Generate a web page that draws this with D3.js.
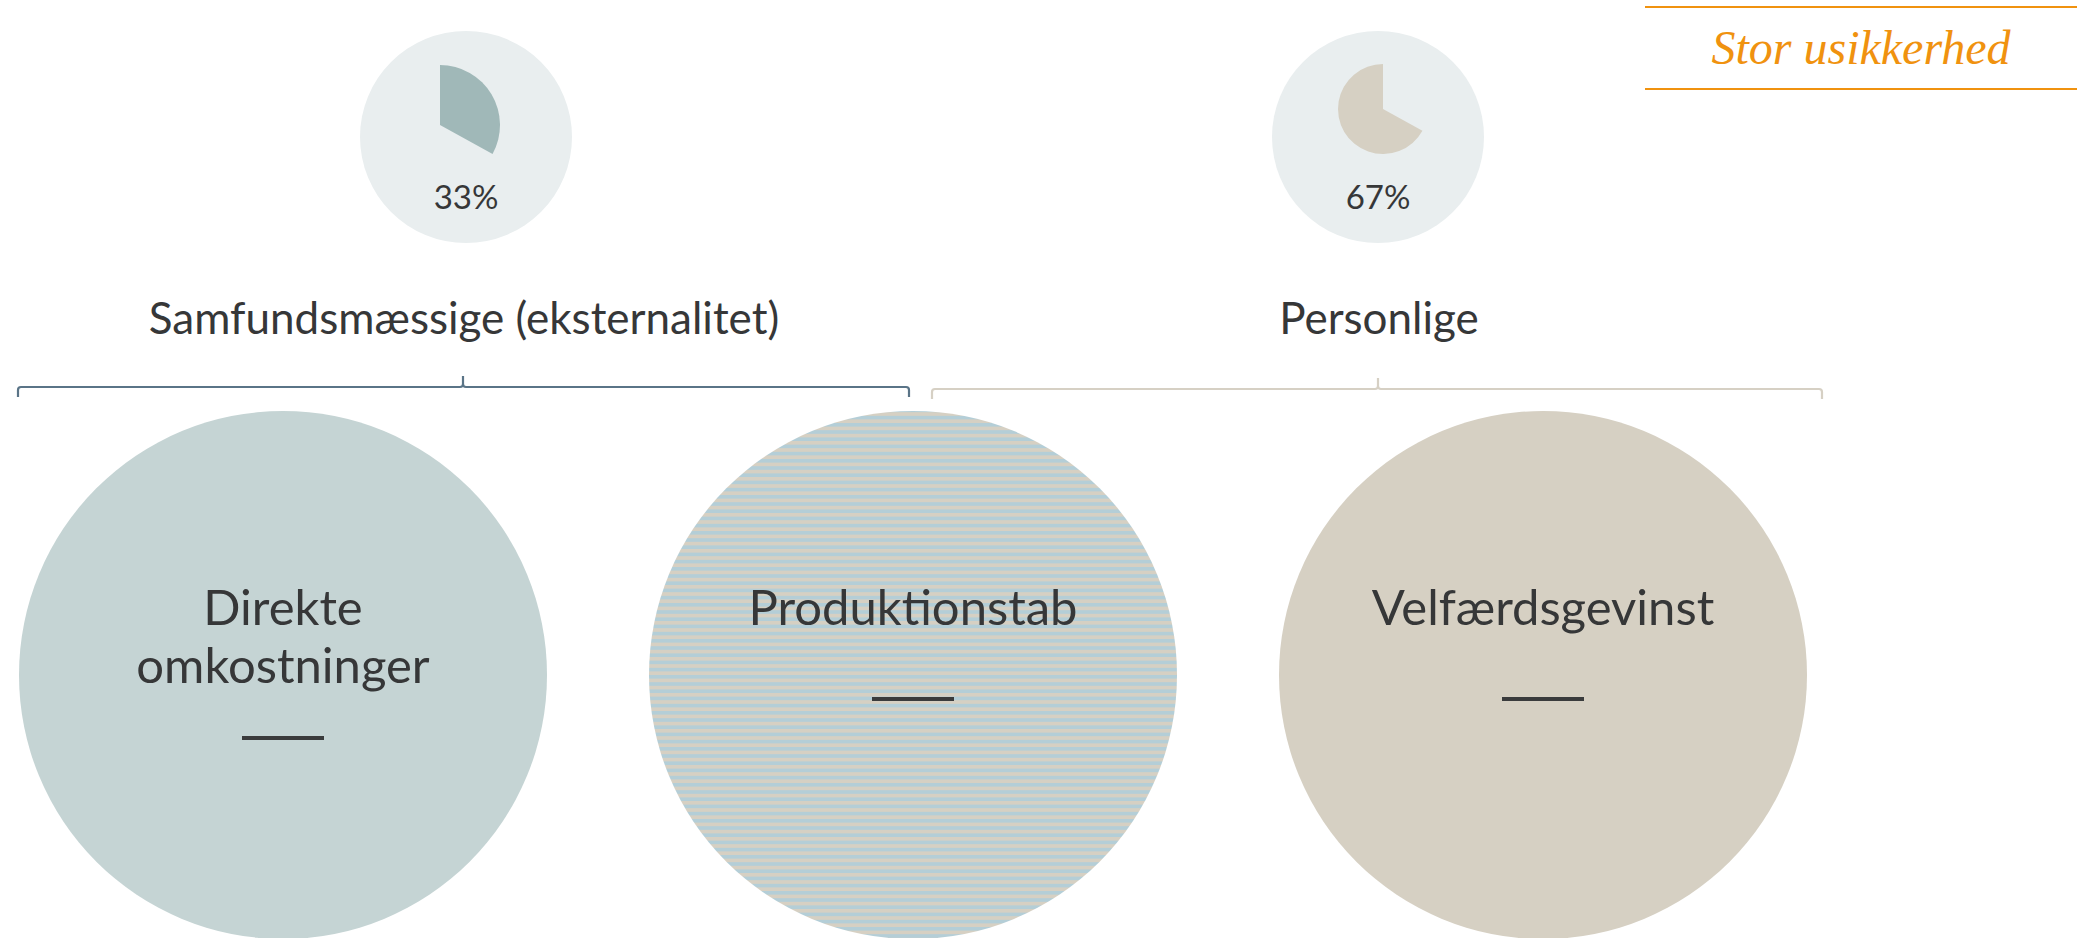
<!DOCTYPE html>
<html>
<head>
<meta charset="utf-8">
<script src="https://cdn.jsdelivr.net/npm/d3@7"></script>
<style>
  html, body { margin: 0; padding: 0; background: #fff; }
  svg { display: block; }
</style>
</head>
<body>
<svg id="chart"></svg>
<script>
// data
const groups = ["Samfundsmæssige (eksternalitet)", "Personlige"];
const groupShares = [33, 67];
const categories = ["Direkte omkostninger", "Produktionstab", "Velfærdsgevinst"];
const categoryLines = [["Direkte", "omkostninger"], ["Produktionstab"], ["Velfærdsgevinst"]];
const categoryGroup = [0, 0, 1];
const badgeText = "Stor usikkerhed";

const width = 2088, height = 938;
const svg = d3.select("#chart").attr("width", width).attr("height", height);
const font = "Lato, 'Noto Sans', sans-serif";
const textColor = "#363738";

const defs = svg.append("defs");
const stripes = defs.append("pattern")
    .attr("id", "stripes")
    .attr("patternUnits", "userSpaceOnUse")
    .attr("width", 8).attr("height", 7.2);
stripes.append("rect").attr("width", 8).attr("height", 7.2).attr("fill", "#d6d0c3");
stripes.append("rect").attr("width", 8).attr("height", 3.6).attr("fill", "#b4ced7");

// big circles
const x = d3.scalePoint().domain(categories).range([283, 1543]);
const circleFill = ["#c5d4d4", "url(#stripes)", "#d6d0c3"];
const bigR = 264, bigY = 675;

const cat = svg.append("g").selectAll("g")
    .data(categories)
    .enter().append("g")
    .attr("transform", d => `translate(${x(d)},${bigY})`);

cat.append("circle")
    .attr("r", bigR)
    .attr("fill", (d, i) => circleFill[i]);

cat.each(function(d, i) {
    const g = d3.select(this);
    const lines = categoryLines[i];
    const lineH = 58;
    const first = -50;
    g.selectAll("text")
        .data(lines)
        .enter().append("text")
        .attr("text-anchor", "middle")
        .attr("y", (l, j) => first + j * lineH)
        .attr("font-family", font)
        .attr("font-size", 49)
        .attr("fill", textColor)
        .text(l => l);
    const barY = lines.length > 1 ? first + (lines.length - 1) * lineH + 55 : first + 74;
    g.append("line")
        .attr("x1", -41).attr("x2", 41)
        .attr("y1", barY).attr("y2", barY)
        .attr("stroke", "#3a3b3c")
        .attr("stroke-width", 4);
});

// brackets over the circle groups
const brackets = [
    { x0: 18, x1: 909, mid: 463, y: 387, color: "#5a7487" },
    { x0: 932, x1: 1822, mid: 1378, y: 389, color: "#d6d0c4" }
];
function bracketPath(b) {
    const p = d3.path();
    const r = 3;
    p.moveTo(b.x0, b.y + 10);
    p.lineTo(b.x0, b.y + r);
    p.quadraticCurveTo(b.x0, b.y, b.x0 + r, b.y);
    p.lineTo(b.mid - r, b.y);
    p.quadraticCurveTo(b.mid, b.y, b.mid, b.y - r);
    p.lineTo(b.mid, b.y - 11);
    p.moveTo(b.mid, b.y - r);
    p.quadraticCurveTo(b.mid, b.y, b.mid + r, b.y);
    p.lineTo(b.x1 - r, b.y);
    p.quadraticCurveTo(b.x1, b.y, b.x1, b.y + r);
    p.lineTo(b.x1, b.y + 10);
    return p.toString();
}
svg.append("g").selectAll("path")
    .data(brackets)
    .enter().append("path")
    .attr("d", bracketPath)
    .attr("fill", "none")
    .attr("stroke", d => d.color)
    .attr("stroke-width", 2.2);

// group headings
const headX = [464, 1379];
svg.append("g").selectAll("text")
    .data(groups)
    .enter().append("text")
    .attr("x", (d, i) => headX[i])
    .attr("y", 334)
    .attr("text-anchor", "middle")
    .attr("font-family", font)
    .attr("font-size", 44)
    .attr("fill", textColor)
    .text(d => d);

// small share pies
const pieData = d3.pie().sort(null).value(d => d)(groupShares);
const pies = [
    { cx: 466, cy: 137, px: 440, py: 125, r: 60, fill: "#a0b8b8" },
    { cx: 1378, cy: 137, px: 1383, py: 109, r: 45, fill: "#d6d0c3" }
];
const pg = svg.append("g").selectAll("g")
    .data(pies)
    .enter().append("g");
pg.append("circle")
    .attr("cx", d => d.cx).attr("cy", d => d.cy)
    .attr("r", 106)
    .attr("fill", "#e9eeef");
pg.append("path")
    .attr("transform", d => `translate(${d.px},${d.py})`)
    .attr("d", (d, i) => d3.arc().innerRadius(0).outerRadius(d.r)(pieData[i]))
    .attr("fill", d => d.fill);
pg.append("text")
    .attr("x", d => d.cx)
    .attr("y", 209)
    .attr("text-anchor", "middle")
    .attr("font-family", font)
    .attr("font-size", 33)
    .attr("fill", textColor)
    .text((d, i) => groupShares[i] + "%");

// uncertainty badge
const badge = svg.append("g");
badge.selectAll("line")
    .data([7, 89])
    .enter().append("line")
    .attr("x1", 1645).attr("x2", 2077)
    .attr("y1", d => d).attr("y2", d => d)
    .attr("stroke", "#f0920f")
    .attr("stroke-width", 2);
badge.append("text")
    .attr("x", 1861).attr("y", 64)
    .attr("text-anchor", "middle")
    .attr("font-family", "'Liberation Serif', 'Times New Roman', serif")
    .attr("font-style", "italic")
    .attr("font-size", 48)
    .attr("fill", "#f0920f")
    .text(badgeText);
</script>
</body>
</html>
